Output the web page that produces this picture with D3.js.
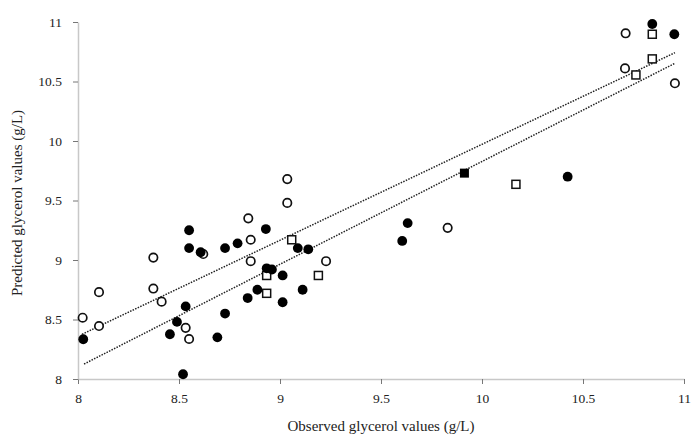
<!DOCTYPE html>
<html><head><meta charset="utf-8">
<script src="https://cdn.jsdelivr.net/npm/d3@7"></script>
<style>body{margin:0;background:#fff}svg{display:block}text{font-family:"Liberation Serif","Times New Roman",serif;fill:#222}</style>
</head><body><svg id="c" width="692" height="439"></svg>
<script>
const xTicks=[8,8.5,9,9.5,10,10.5,11];
const yTicks=[8,8.5,9,9.5,10,10.5,11];
const xLabel="Observed glycerol values (g/L)";
const yLabel="Predicted glycerol values (g/L)";
// filled circles
const filledX=[8.026,8.55,8.55,8.607,8.728,8.79,8.93,8.934,8.96,9.013,9.088,9.14,9.112,9.013,8.888,8.84,8.728,8.533,8.49,8.455,8.69,8.52,9.632,9.605,10.424,10.843,10.952];
const filledY=[8.334,9.25,9.10,9.065,9.10,9.14,9.26,8.93,8.92,8.87,9.10,9.09,8.75,8.645,8.75,8.68,8.55,8.61,8.48,8.376,8.35,8.04,9.31,9.16,9.70,10.983,10.897];
// filled squares
const fsqX=[9.913];
const fsqY=[9.73];
// open circles
const openX=[8.843,8.855,8.855,9.228,8.373,8.373,8.414,8.104,8.104,8.023,8.533,8.55,8.62,9.036,9.036,9.83,10.711,10.708,10.955];
const openY=[9.35,9.17,8.99,8.99,9.02,8.76,8.65,8.73,8.445,8.515,8.43,8.336,9.05,9.68,9.48,9.27,10.905,10.61,10.485];
// open squares
const osqX=[9.058,9.19,8.934,8.934,10.168,10.843,10.843,10.762];
const osqY=[9.17,8.87,8.87,8.72,9.636,10.897,10.69,10.555];
// regression lines
const line1X=[8.02,10.955], line1Y=[8.376,10.742];
const line2X=[8.03,10.955], line2Y=[8.126,10.653];

const svg=d3.select("#c");
const x=d3.scaleLinear().domain([8,11]).range([78,684]);
const y=d3.scaleLinear().domain([8,11]).range([379,22]);

const xa=svg.append("g").attr("transform","translate(0,379)")
 .call(d3.axisBottom(x).tickValues(xTicks).tickFormat(d=>String(d)).tickSize(5).tickSizeOuter(0));
const ya=svg.append("g").attr("transform","translate(78,0)")
 .call(d3.axisLeft(y).tickValues(yTicks).tickFormat(d=>String(d)).tickSize(5).tickSizeOuter(0));
[xa,ya].forEach(a=>{a.select(".domain").attr("stroke","#c8c8c8").attr("stroke-width",1.5);
 a.selectAll(".tick line").attr("stroke","#777");
 a.selectAll("text").attr("font-size",13.5).attr("fill","#222").style("font-family","Liberation Serif");});
xa.selectAll("text").attr("dy","1.2em");
ya.selectAll("text").attr("dx","-0.6em");

svg.append("text").attr("x",381).attr("y",431).attr("text-anchor","middle").attr("font-size",15).text(xLabel);
svg.append("text").attr("transform","translate(22,203) rotate(-90)").attr("text-anchor","middle").attr("font-size",15).text(yLabel);

const ln=d3.line().x(d=>x(d[0])).y(d=>y(d[1]));
[[line1X,line1Y],[line2X,line2Y]].forEach(([lx,ly])=>{
 svg.append("path").attr("d",ln(d3.zip(lx,ly))).attr("fill","none").attr("stroke","#222").attr("stroke-width",1.5).attr("stroke-dasharray","1.5,1.3");
});

svg.append("g").selectAll("circle").data(d3.zip(openX,openY)).join("circle")
 .attr("cx",d=>x(d[0])).attr("cy",d=>y(d[1])).attr("r",4.2).attr("fill","#fff").attr("stroke","#111").attr("stroke-width",1.7);
svg.append("g").selectAll("rect").data(d3.zip(osqX,osqY)).join("rect")
 .attr("x",d=>x(d[0])-4).attr("y",d=>y(d[1])-4).attr("width",8).attr("height",8).attr("fill","#fff").attr("stroke","#111").attr("stroke-width",1.5);
svg.append("g").selectAll("circle").data(d3.zip(filledX,filledY)).join("circle")
 .attr("cx",d=>x(d[0])).attr("cy",d=>y(d[1])).attr("r",4.9).attr("fill","#000");
svg.append("g").selectAll("rect").data(d3.zip(fsqX,fsqY)).join("rect")
 .attr("x",d=>x(d[0])-4.5).attr("y",d=>y(d[1])-4.5).attr("width",9).attr("height",9).attr("fill","#000");
</script></body></html>
